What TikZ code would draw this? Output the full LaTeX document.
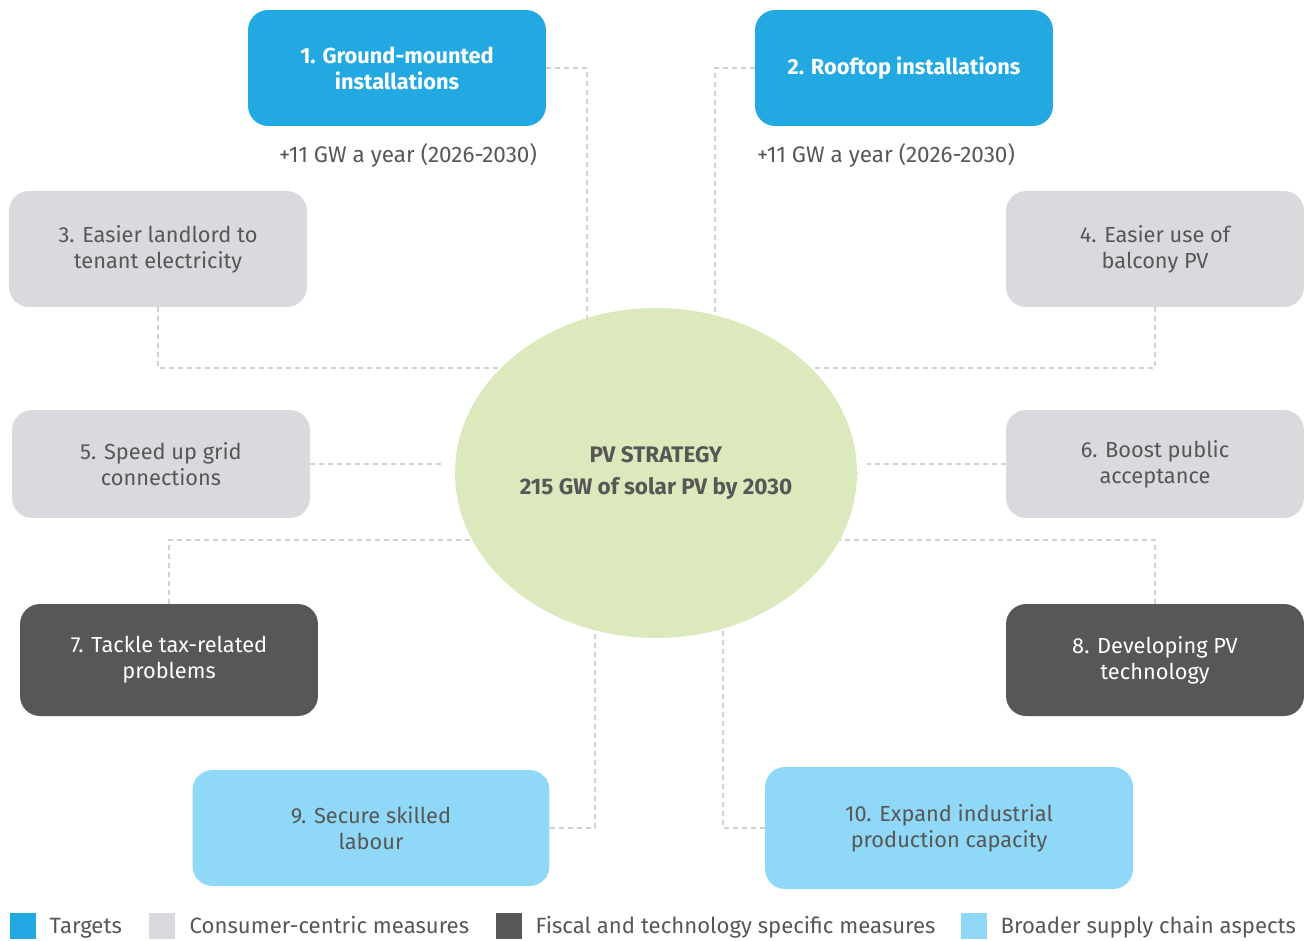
\documentclass[tikz,border=0pt]{standalone}
\usepackage{fontspec}
\setmainfont{Fira Sans}
\usepackage{tikz}
\usetikzlibrary{shapes.geometric, backgrounds, positioning}

\definecolor{targetblue}{HTML}{23A9E1}
\definecolor{consumergray}{HTML}{D9D9DE}
\definecolor{fiscaldark}{HTML}{575756}
\definecolor{supplyblue}{HTML}{8FD8F7}
\definecolor{strategygreen}{HTML}{DCE9BC}
\definecolor{textgray}{HTML}{575756}
\definecolor{linkgray}{HTML}{D2D2D2}

\begin{document}
\begin{tikzpicture}[
                x=0.02cm, y=-0.02cm, % one unit per pixel, y running down
                box/.style={rectangle, rounded corners=0.4cm, minimum width=5.96cm, minimum height=2.32cm, align=center, text=textgray, font=\fontsize{12.4}{14.8}\selectfont}, % Rounded box for measures
                targetbox/.style={box, fill=targetblue, text=white, font=\fontsize{12.4}{14.8}\selectfont\bfseries}, % Targets
                consumerbox/.style={box, fill=consumergray}, % Consumer-centric
                fiscalbox/.style={box, fill=fiscaldark, text=white}, % Fiscal and technology
                supplybox/.style={box, fill=supplyblue}, % Supply chain
                link/.style={draw=linkgray, line width=1.1pt, dash pattern=on 1mm off 0.8mm}, % Dashed connectors
                note/.style={text=textgray, font=\fontsize{12.8}{15}\selectfont}, % Text under the targets
                legsq/.style={rectangle, minimum size=0.52cm, inner sep=0pt}, % Legend squares
                legtext/.style={inner sep=0pt, anchor=west, text height=10pt, text depth=1.4pt, text=textgray, font=\fontsize{12.6}{15}\selectfont} % Legend labels
                ]
                \useasboundingbox (0,0) rectangle (1314,940);

                % centre
                \node[ellipse, fill=strategygreen, minimum width=8.04cm, minimum height=6.6cm, align=center, text=textgray, font=\fontsize{12.8}{18.2}\selectfont\bfseries] (pv) at (656,473) {PV STRATEGY\\215 GW of solar PV by 2030};

                % targets
                \node[targetbox] (ground) at (397,68) {1. Ground-mounted\\installations};
                \node[targetbox] (rooftop) at (904,68) {2. Rooftop installations};
                \node[note] (groundgw) at (408,155) {+11 GW a year (2026-2030)};
                \node[note] (rooftopgw) at (886,155) {+11 GW a year (2026-2030)};

                % measures
                \node[consumerbox] (landlord) at (158,249) {3. Easier landlord to\\tenant electricity};
                \node[consumerbox] (balcony) at (1155,249) {4. Easier use of\\balcony PV};
                \node[consumerbox, minimum height=2.16cm] (grid) at (161,464) {5. Speed up grid\\connections};
                \node[consumerbox, minimum height=2.16cm] (accept) at (1155,464) {6. Boost public\\acceptance};
                \node[fiscalbox, minimum height=2.24cm] (tax) at (169,660) {7. Tackle tax-related\\problems};
                \node[fiscalbox, minimum height=2.24cm] (tech) at (1155,660) {8. Developing PV\\technology};
                \node[supplybox, minimum width=7.14cm] (labour) at (371,828) {9. Secure skilled\\labour};
                \node[supplybox, minimum width=7.36cm, minimum height=2.44cm] (capacity) at (949,828) {10. Expand industrial\\production capacity};

                % connectors, behind the centre
                \begin{scope}[on background layer]
                \draw[link] (ground.east) -- ++(41,0) |- (pv);
                \draw[link] (rooftop.west) -- ++(-40,0) |- (pv);
                \draw[link] (landlord.south) -- ++(0,61) -| (pv);
                \draw[link] (balcony.south) -- ++(0,61) -| (pv);
                \draw[link] (tax.north) -- ++(0,-64) -| (pv);
                \draw[link] (tech.north) -- ++(0,-64) -| (pv);
                \draw[link] (labour.east) -- ++(45,0) |- (pv);
                \draw[link] (capacity.west) -- ++(-42,0) |- (pv);
                \end{scope}
                \draw[link, shorten >=0.2cm] (grid.east) -- (grid.east -| pv.west);
                \draw[link, shorten >=0.2cm] (accept.west) -- (accept.west -| pv.east);

                % legend
                \node[legsq, fill=targetblue] (legtarget) at (23,926) {};
                \node[legtext, right=0.26cm of legtarget] (legtargettext) {Targets};
                \node[legsq, fill=consumergray] (legconsumer) at (162,926) {};
                \node[legtext, right=0.28cm of legconsumer] (legconsumertext) {Consumer-centric measures};
                \node[legsq, fill=fiscaldark] (legfiscal) at (509,926) {};
                \node[legtext, right=0.26cm of legfiscal] (legfiscaltext) {Fiscal and technology specific measures};
                \node[legsq, fill=supplyblue] (legsupply) at (974,926) {};
                \node[legtext, right=0.26cm of legsupply] (legsupplytext) {Broader supply chain aspects};
            \end{tikzpicture}
\end{document}
